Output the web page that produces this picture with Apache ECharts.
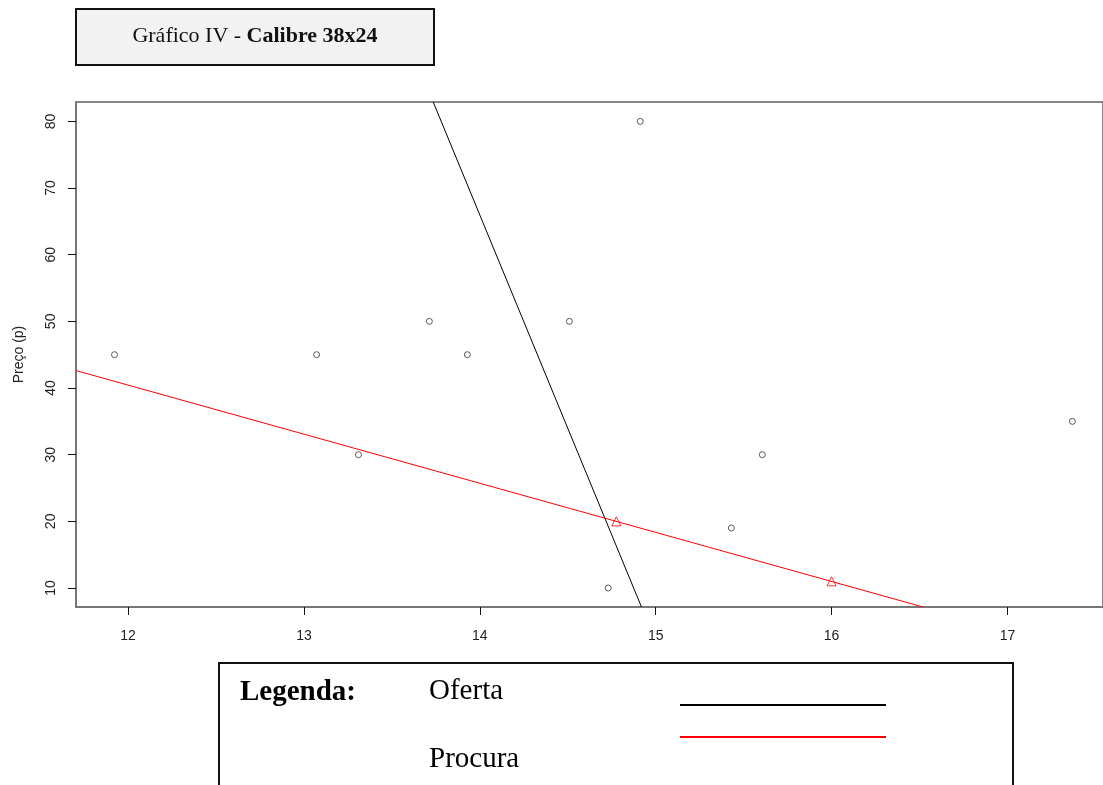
<!DOCTYPE html>
<html>
<head>
<meta charset="utf-8">
<script src="https://cdn.jsdelivr.net/npm/echarts@6/dist/echarts.min.js"></script>
<style>
body { margin: 0; background: #fff; }
#chart { width: 1103px; height: 785px; }
</style>
</head>
<body>
<div id="chart"></div>
<script>
// pontos observados (calibre, preço)
const pontos = [
  [11.923, 45], [13.072, 45], [13.31, 30], [13.713, 50], [13.929, 45],
  [14.509, 50], [14.912, 80], [14.73, 10], [15.43, 19], [15.606, 30], [17.369, 35]
];
// pontos da procura (triângulos)
const procuraPts = [[14.776, 20], [16.0, 11]];
// rectas
const ofertaLinha = [[13.735, 82.91], [14.919, 7.15]];
const procuraLinha = [[11.704, 42.62], [16.52, 7.15]];
// eixos
const xTicks = [12, 13, 14, 15, 16, 17];
const yTicks = [10, 20, 30, 40, 50, 60, 70, 80];

const serif = '"Liberation Serif", "Times New Roman", serif';
const sans = '"Liberation Sans", Arial, sans-serif';

const myChart = echarts.init(document.getElementById('chart'));
myChart.setOption({
  animation: false,
  grid: {
    left: 76, top: 102, right: 0, bottom: 178,
    show: true, borderColor: '#111', borderWidth: 1
  },
  xAxis: {
    type: 'value', min: 11.704, max: 17.543,
    splitLine: { show: false },
    axisLine: { show: true, onZero: false, lineStyle: { color: '#777', width: 2 } },
    axisTick: { show: true, length: 8, customValues: xTicks, lineStyle: { color: '#111' } },
    axisLabel: { customValues: xTicks, margin: 22, fontFamily: sans, fontSize: 14, color: '#222' }
  },
  yAxis: {
    type: 'value', min: 7.15, max: 82.91,
    name: 'Preço (p)', nameLocation: 'middle', nameGap: 50,
    nameTextStyle: { fontFamily: sans, fontSize: 14, color: '#222' },
    splitLine: { show: false },
    axisLine: { show: true, onZero: false, lineStyle: { color: '#777', width: 2 } },
    axisTick: { show: true, length: 8, customValues: yTicks, lineStyle: { color: '#111' } },
    axisLabel: { customValues: yTicks, rotate: 90, margin: 18, fontFamily: sans, fontSize: 14, color: '#222' }
  },
  series: [
    {
      name: 'Oferta', type: 'line', data: ofertaLinha, symbol: 'none', clip: true,
      lineStyle: { color: '#000', width: 1 }
    },
    {
      name: 'Procura', type: 'line', data: procuraLinha, symbol: 'none', clip: true,
      lineStyle: { color: '#ff0000', width: 1 }
    },
    {
      type: 'scatter', data: pontos, symbol: 'circle', symbolSize: 6,
      itemStyle: { color: '#fff', borderColor: '#333', borderWidth: 1 }
    },
    {
      type: 'scatter', data: procuraPts, symbol: 'triangle', symbolSize: 9,
      itemStyle: { color: 'rgba(255,255,255,0)', borderColor: '#ff0000', borderWidth: 1 }
    }
  ],
  graphic: [
    {
      type: 'rect', shape: { x: 76, y: 9, width: 358, height: 56 },
      style: { fill: '#f2f2f2', stroke: '#111', lineWidth: 2 }
    },
    {
      type: 'text', x: 255, y: 36,
      style: {
        text: '{n|Gráfico IV - }{b|Calibre 38x24}',
        align: 'center', verticalAlign: 'middle',
        rich: {
          n: { fontFamily: serif, fontSize: 22, fill: '#111' },
          b: { fontFamily: serif, fontSize: 22, fontWeight: 'bold', fill: '#111' }
        }
      }
    },
    {
      type: 'rect', shape: { x: 219, y: 663, width: 794, height: 140 },
      style: { fill: '#fff', stroke: '#111', lineWidth: 2 }
    },
    {
      type: 'text', x: 240, y: 693,
      style: { text: 'Legenda:', fontFamily: serif, fontSize: 29, fontWeight: 'bold', fill: '#000', verticalAlign: 'middle' }
    },
    {
      type: 'text', x: 429, y: 691,
      style: { text: 'Oferta', fontFamily: serif, fontSize: 29, fill: '#000', verticalAlign: 'middle' }
    },
    {
      type: 'text', x: 429, y: 759,
      style: { text: 'Procura', fontFamily: serif, fontSize: 29, fill: '#000', verticalAlign: 'middle' }
    },
    {
      type: 'line', shape: { x1: 680, y1: 705, x2: 886, y2: 705 },
      style: { stroke: '#000', lineWidth: 2 }
    },
    {
      type: 'line', shape: { x1: 680, y1: 737, x2: 886, y2: 737 },
      style: { stroke: '#ff0000', lineWidth: 2 }
    }
  ]
});
</script>
</body>
</html>
